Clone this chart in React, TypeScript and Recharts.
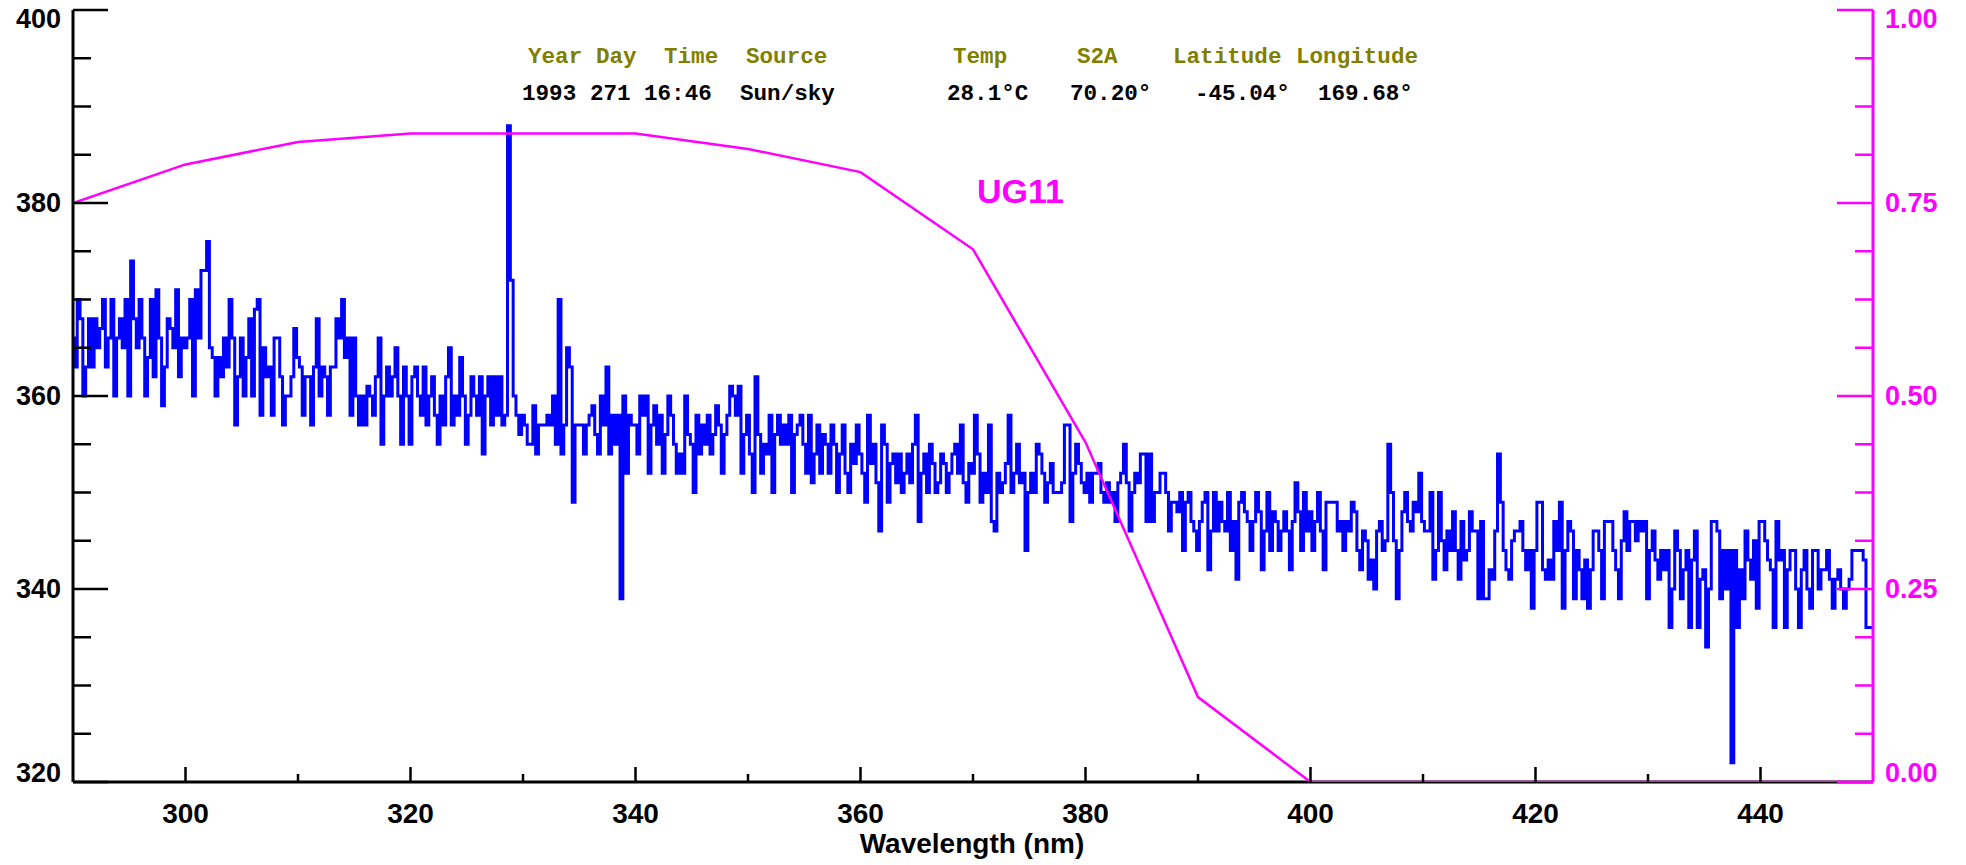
import React from "react";
import { ComposedChart, Line, XAxis, YAxis } from "recharts";

const W = 1966;
const H = 865;
const SANS = '"Liberation Sans", Arial, Helvetica, sans-serif';
const MONO = '"Liberation Mono", "DejaVu Sans Mono", monospace';
const BLUE = "#0000ff";
const MAGENTA = "#ff00ff";
const OLIVE = "#808000";

// spectrum sampled every 0.25 nm from 290 nm (rows of 5 nm)
const startNm = 290;
const stepNm = 0.25;
const counts = [
  366, 363, 370, 368, 360, 363, 368, 363, 368, 365, 367, 370, 363, 366, 370, 360, 366, 368, 365, 370,
  360, 374, 368, 365, 370, 366, 360, 364, 370, 362, 371, 366, 359, 363, 368, 367, 365, 371, 362, 366,
  365, 366, 370, 360, 371, 366, 373, 373, 376, 365, 364, 360, 364, 362, 366, 363, 370, 366, 357, 362,
  366, 360, 364, 368, 360, 369, 370, 358, 365, 362, 363, 358, 366, 366, 362, 357, 360, 360, 362, 367,
  364, 363, 358, 362, 362, 357, 363, 368, 360, 363, 362, 358, 363, 363, 368, 366, 370, 364, 366, 358,
  366, 360, 357, 360, 357, 361, 360, 358, 362, 366, 355, 360, 363, 360, 362, 365, 360, 355, 363, 360,
  355, 362, 363, 360, 358, 363, 357, 360, 362, 358, 355, 360, 357, 362, 365, 357, 360, 358, 364, 360,
  355, 358, 362, 360, 358, 362, 354, 360, 362, 357, 362, 358, 362, 357, 358, 388, 372, 360, 358, 356,
  358, 357, 355, 355, 359, 354, 357, 357, 357, 358, 357, 360, 355, 370, 354, 357, 365, 363, 349, 357,
  357, 357, 354, 357, 358, 359, 356, 354, 360, 357, 363, 354, 358, 355, 358, 339, 360, 352, 358, 357,
  357, 354, 360, 358, 360, 352, 357, 359, 355, 358, 352, 356, 360, 358, 355, 352, 354, 352, 360, 356,
  355, 350, 358, 354, 357, 355, 358, 354, 356, 359, 357, 352, 356, 358, 361, 360, 358, 361, 352, 356,
  358, 354, 350, 362, 356, 352, 355, 354, 358, 350, 356, 358, 355, 357, 355, 358, 350, 356, 357, 358,
  355, 352, 358, 351, 354, 357, 352, 356, 355, 352, 357, 355, 350, 354, 357, 352, 350, 355, 353, 357,
  354, 352, 349, 358, 353, 355, 351, 346, 357, 355, 349, 353, 354, 351, 354, 350, 352, 354, 351, 355,
  358, 347, 352, 354, 350, 355, 353, 350, 351, 354, 353, 350, 352, 354, 355, 352, 357, 351, 349, 353,
  352, 358, 354, 349, 352, 350, 357, 347, 346, 352, 350, 351, 353, 358, 350, 352, 355, 351, 352, 344,
  350, 352, 350, 355, 354, 352, 349, 351, 353, 350, 350, 350, 351, 357, 357, 347, 352, 355, 353, 351,
  350, 352, 349, 352, 352, 353, 350, 349, 351, 349, 350, 347, 351, 352, 355, 351, 346, 350, 352, 351,
  354, 354, 347, 354, 347, 350, 350, 352, 352, 350, 346, 349, 349, 348, 350, 344, 349, 350, 347, 346,
  344, 347, 349, 350, 342, 346, 350, 346, 349, 347, 346, 350, 344, 347, 341, 349, 350, 348, 347, 344,
  347, 350, 348, 342, 346, 350, 344, 348, 347, 344, 346, 348, 346, 342, 347, 351, 348, 344, 350, 346,
  348, 344, 347, 350, 346, 342, 349, 349, 349, 349, 346, 347, 344, 347, 346, 349, 348, 344, 342, 346,
  345, 341, 343, 340, 346, 347, 344, 345, 355, 350, 345, 339, 344, 348, 350, 347, 346, 349, 348, 352,
  347, 346, 346, 350, 341, 344, 350, 345, 342, 346, 344, 348, 344, 341, 347, 343, 344, 348, 346, 346,
  339, 347, 339, 339, 342, 341, 346, 354, 349, 344, 342, 341, 345, 346, 346, 347, 344, 342, 344, 338,
  344, 349, 349, 342, 341, 343, 341, 347, 344, 349, 338, 344, 347, 346, 339, 344, 342, 339, 343, 338,
  342, 346, 346, 344, 339, 347, 347, 347, 344, 342, 339, 345, 348, 344, 347, 347, 345, 347, 346, 347,
  339, 344, 346, 343, 341, 344, 342, 344, 336, 340, 346, 344, 339, 342, 344, 336, 343, 346, 336, 341,
  342, 334, 340, 347, 347, 346, 339, 344, 340, 344, 322, 344, 336, 342, 339, 346, 343, 341, 345, 338,
  347, 347, 345, 343, 342, 336, 347, 343, 344, 336, 342, 344, 344, 340, 336, 342, 344, 340, 338, 344,
  344, 340, 342, 342, 344, 341, 338, 341, 342, 340, 338, 340, 341, 344, 344, 344, 344, 343, 336, 336,
  336,
];

// UG11 filter transmission
const filterNm = [290, 300, 310, 320, 330, 340, 350, 360, 370, 380, 390, 400, 450];
const filterT = [0.75, 0.8, 0.829, 0.84, 0.84, 0.84, 0.82, 0.79, 0.69, 0.44, 0.11, 0, 0];

const xTicks = [300, 310, 320, 330, 340, 350, 360, 370, 380, 390, 400, 410, 420, 430, 440];
const leftTicks = [320, 325, 330, 335, 340, 345, 350, 355, 360, 365, 370, 375, 380, 385, 390, 395, 400];
const rightTicks = [
  0, 0.0625, 0.125, 0.1875, 0.25, 0.3125, 0.375, 0.4375, 0.5, 0.5625, 0.625, 0.6875, 0.75, 0.8125,
  0.875, 0.9375, 1,
];

const spectrum = counts.map((c, i) => ({ nm: startNm + i * stepNm, counts: c }));
const filter = filterNm.map((nm, i) => ({ nm, t: filterT[i] }));

const headerTop = [
  { x: 528, text: "Year" },
  { x: 596, text: "Day" },
  { x: 664, text: "Time" },
  { x: 746, text: "Source" },
  { x: 953, text: "Temp" },
  { x: 1077, text: "S2A" },
  { x: 1173, text: "Latitude" },
  { x: 1296, text: "Longitude" },
];
const headerBottom = [
  { x: 522, text: "1993" },
  { x: 590, text: "271" },
  { x: 644, text: "16:46" },
  { x: 740, text: "Sun/sky" },
  { x: 947, text: "28.1°C" },
  { x: 1070, text: "70.20°" },
  { x: 1195, text: "-45.04°" },
  { x: 1318, text: "169.68°" },
];

const labelStyle = { fontFamily: SANS, fontWeight: 700, fontSize: 27 };

function BottomTick(props: any) {
  const { x, y, payload } = props;
  const major = payload.value % 20 === 0;
  return (
    <g>
      <line x1={x} y1={y} x2={x} y2={y - (major ? 15 : 8)} stroke="#000" strokeWidth={2.5} />
      {major && (
        <text x={x} y={y + 41} textAnchor="middle" fill="#000" style={{ ...labelStyle, fontSize: 28 }}>
          {payload.value}
        </text>
      )}
    </g>
  );
}

function TopTick(props: any) {
  const { x, y, payload } = props;
  const major = payload.value % 20 === 0;
  return <line x1={x} y1={y} x2={x} y2={y + (major ? 16 : 8)} stroke="#000" strokeWidth={2.5} />;
}

function baselineFor(v: number, lo: number, hi: number, y: number) {
  if (v === hi) return y + 18;
  if (v === lo) return y;
  return y + 9;
}

function LeftTick(props: any) {
  const { x, y, payload } = props;
  const v = payload.value;
  const major = v % 20 === 0;
  return (
    <g>
      <line x1={x} y1={y} x2={x + (major ? 35 : 18)} y2={y} stroke="#000" strokeWidth={2.5} />
      {major && (
        <text x={x - 12} y={baselineFor(v, 320, 400, y)} textAnchor="end" fill="#000" style={labelStyle}>
          {v}
        </text>
      )}
    </g>
  );
}

function RightTick(props: any) {
  const { x, y, payload } = props;
  const v = payload.value;
  const major = Math.abs(v * 4 - Math.round(v * 4)) < 1e-6;
  return (
    <g>
      <line x1={x} y1={y} x2={x - (major ? 36 : 18)} y2={y} stroke={MAGENTA} strokeWidth={2.5} />
      {major && (
        <text x={x + 12} y={baselineFor(v, 0, 1, y)} textAnchor="start" fill={MAGENTA} style={labelStyle}>
          {v.toFixed(2)}
        </text>
      )}
    </g>
  );
}

export default function App() {
  return (
    <div style={{ position: "absolute", left: 0, top: 0, width: W, height: H, background: "#fff" }}>
      <ComposedChart width={W} height={H} margin={{ top: 10, right: 0, bottom: 0, left: 0 }}>
        <XAxis
          xAxisId="top"
          orientation="top"
          type="number"
          dataKey="nm"
          domain={[290, 450]}
          allowDataOverflow
          ticks={xTicks}
          interval={0}
          height={0}
          tickSize={0}
          tickMargin={0}
          tickLine={false}
          tick={<TopTick />}
          axisLine={{ stroke: "#000", strokeWidth: 3 }}
        />
        <XAxis
          xAxisId="bottom"
          type="number"
          dataKey="nm"
          domain={[290, 450]}
          allowDataOverflow
          ticks={xTicks}
          interval={0}
          height={83}
          tickSize={0}
          tickMargin={0}
          tickLine={false}
          tick={<BottomTick />}
          axisLine={{ stroke: "#000", strokeWidth: 3 }}
        />
        <YAxis
          yAxisId="left"
          type="number"
          domain={[320, 400]}
          allowDataOverflow
          ticks={leftTicks}
          interval={0}
          width={73}
          tickSize={0}
          tickMargin={0}
          tickLine={false}
          tick={<LeftTick />}
          axisLine={{ stroke: "#000", strokeWidth: 3 }}
        />
        <Line
          xAxisId="bottom"
          yAxisId="left"
          data={spectrum}
          dataKey="counts"
          type="step"
          stroke={BLUE}
          strokeWidth={3}
          dot={false}
          activeDot={false}
          isAnimationActive={false}
        />
        <Line
          xAxisId="bottom"
          yAxisId="right"
          data={filter}
          dataKey="t"
          type="linear"
          stroke={MAGENTA}
          strokeWidth={2.5}
          dot={false}
          activeDot={false}
          isAnimationActive={false}
          zIndex={600}
        />
        <YAxis
          yAxisId="right"
          orientation="right"
          type="number"
          domain={[0, 1]}
          allowDataOverflow
          ticks={rightTicks}
          interval={0}
          width={93}
          tickSize={0}
          tickMargin={0}
          tickLine={false}
          tick={<RightTick />}
          axisLine={{ stroke: MAGENTA, strokeWidth: 3 }}
        />
      </ComposedChart>
      <svg
        width={W}
        height={H}
        style={{ position: "absolute", left: 0, top: 0, pointerEvents: "none" }}
      >
        {headerTop.map((h) => (
          <text key={h.text} x={h.x} y={63} fill={OLIVE} style={{ fontFamily: MONO, fontWeight: 700, fontSize: 22.6 }}>
            {h.text}
          </text>
        ))}
        {headerBottom.map((h) => (
          <text key={h.text} x={h.x} y={100} fill="#000" style={{ fontFamily: MONO, fontWeight: 700, fontSize: 22.6 }}>
            {h.text}
          </text>
        ))}
        <text x={977} y={203} fill={MAGENTA} style={{ fontFamily: SANS, fontWeight: 700, fontSize: 34 }}>
          UG11
        </text>
        <text x={972} y={853} textAnchor="middle" fill="#000" style={{ fontFamily: SANS, fontWeight: 700, fontSize: 28 }}>
          Wavelength (nm)
        </text>
      </svg>
    </div>
  );
}
